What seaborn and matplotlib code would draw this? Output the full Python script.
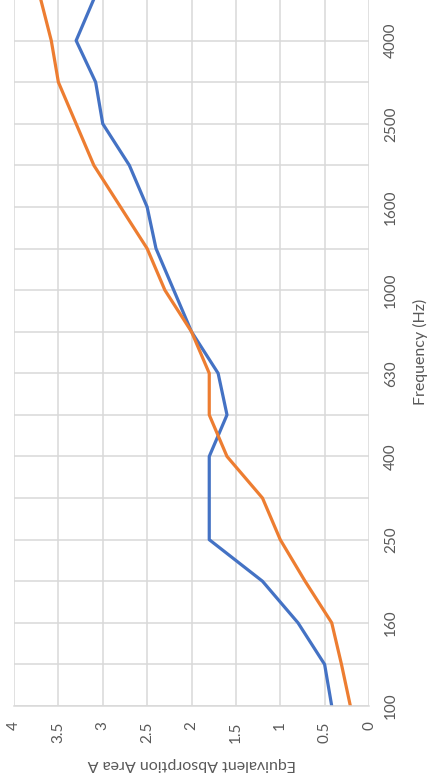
import matplotlib
matplotlib.use("Agg")
import matplotlib.pyplot as plt
import numpy as np
import pandas as pd
import seaborn as sns

# ==========================
# Datos
# ==========================
frecuencias = ["100", "125", "160", "200", "250", "315", "400", "500", "630",
               "800", "1000", "1250", "1600", "2000", "2500", "3150", "4000", "5000"]
serie_azul = [0.42, 0.50, 0.80, 1.20, 1.80, 1.80, 1.80, 1.60, 1.70,
              2.00, 2.20, 2.40, 2.50, 2.70, 3.00, 3.08, 3.30, 3.10]
serie_naranja = [0.21, 0.31, 0.42, 0.72, 1.00, 1.20, 1.60, 1.80, 1.80,
                 2.00, 2.30, 2.50, 2.80, 3.10, 3.30, 3.50, 3.58, 3.70]
valores_eje = [0, 0.5, 1, 1.5, 2, 2.5, 3, 3.5, 4]
etiquetas_eje = ["0", "0.5", "1", "1.5", "2", "2.5", "3", "3.5", "4"]

idx = np.arange(len(frecuencias))
df = pd.DataFrame({
    "pos": np.concatenate([idx, idx]),
    "A": serie_azul + serie_naranja,
    "serie": ["Serie 1"] * len(idx) + ["Serie 2"] * len(idx),
})

sns.set_theme(style="white")
plt.rcParams["font.family"] = ["Lato", "DejaVu Sans"]

GRIS_TXT = "#595959"
GRIS_GRID = "#d9d9d9"

fig = plt.figure(figsize=(4.29, 7.83), dpi=100)
ax = fig.add_axes([14 / 429, 77 / 783, 355 / 429, 707 / 783])

sns.lineplot(data=df, x="A", y="pos", hue="serie", orient="y",
             palette=["#4472C4", "#ED7D31"], linewidth=2.3,
             legend=False, ax=ax, sort=False)

ax.set_xlim(4, 0)
ax.set_ylim(0, len(frecuencias) - 1)

# rejilla y etiquetas (gráfico girado 90°)
ax.set_xticks(valores_eje)
ax.set_xticklabels(etiquetas_eje, rotation=90, va="top", ha="center",
                   color=GRIS_TXT, fontsize=11)
ax.set_yticks(idx)
ax.set_yticklabels([f if i % 2 == 0 else "" for i, f in enumerate(frecuencias)],
                   rotation=90, va="center", ha="left", color=GRIS_TXT, fontsize=11)
ax.yaxis.tick_right()
ax.tick_params(axis="x", length=0, pad=11)
ax.tick_params(axis="y", length=0, pad=11)
ax.grid(True, color=GRIS_GRID, linewidth=1.1)
for lado in ["top", "left", "right"]:
    ax.spines[lado].set_visible(False)
ax.spines["bottom"].set_color(GRIS_GRID)
ax.spines["bottom"].set_linewidth(1.1)
ax.set_xlabel("")
ax.set_ylabel("")

fig.text(192 / 429, 1 - 764 / 783, "Equivalent Absorption Area A", rotation=180,
         ha="center", va="center", color=GRIS_TXT, fontsize=11.5)
fig.text(420 / 429, 1 - 352 / 783, "Frequency (Hz)", rotation=90,
         ha="center", va="center", color=GRIS_TXT, fontsize=11.5)

fig.savefig("out.png", dpi=100)
